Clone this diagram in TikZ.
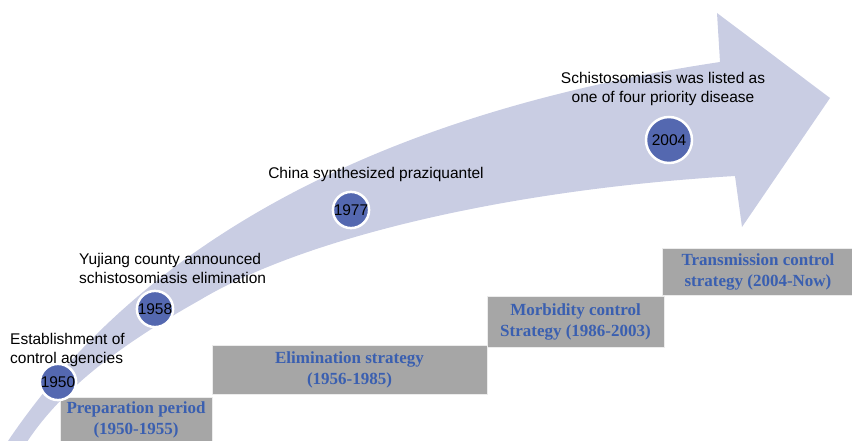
\documentclass[tikz,border=0pt]{standalone}
\usepackage{fontspec}
\setmainfont{Liberation Serif}
\setsansfont{Liberation Sans}
\definecolor{bandcol}{RGB}{201,205,227}
\definecolor{dotcol}{RGB}{84,104,176}
\definecolor{boxcol}{RGB}{166,166,166}
\definecolor{boxtext}{RGB}{58,95,176}
\begin{document}
\begin{tikzpicture}[x=1pt,y=-1pt,
  year/.style={circle,fill=dotcol,draw=white,line width=2.5pt,inner sep=0pt,minimum size=31pt,
    font=\sffamily\fontsize{15.5}{19}\selectfont},
  event/.style={inner sep=0pt,font=\sffamily\fontsize{15.5}{19}\selectfont},
  stage/.style={fill=boxcol,draw=white!85!gray,line width=0.8pt,inner sep=0pt,align=center,
    text=boxtext,font=\bfseries\fontsize{17}{21}\selectfont}]
\useasboundingbox (0,0) rectangle (852,441);
\clip (0,0) rectangle (852,441);
\fill [bandcol] (8,441) .. controls (150,230) and (400,110) .. (720,62)
  -- (717,13) -- (830,98) -- (742,227) -- (735,176)
  .. controls (500,190) and (300,240) .. (200,300)
  .. controls (120,345) and (60,390) .. (25,445) -- (5,445) -- cycle;
\node [stage, minimum width=152pt, minimum height=46pt] (prep) at (136,420) {Preparation period\\(1950-1955)};
\node [stage, minimum width=275pt, minimum height=49pt] (elim) at (349.5,369.5) {Elimination strategy\\(1956-1985)};
\node [stage, minimum width=177pt, minimum height=51pt] (morb) at (575.5,321.5) {Morbidity control\\Strategy (1986-2003)};
\node [stage, minimum width=192pt, minimum height=47pt] (trans) at (758,271.5) {Transmission control\\strategy (2004-Now)};
\node [year] (y1950) at (58,382) {1950};
\node [year] (y1958) at (155,309) {1958};
\node [year, minimum size=34pt] (y1977) at (351,210) {1977};
\node [year, minimum size=46pt] (y2004) at (669,140) {2004};
\node [event, anchor=west, align=left] (e1950) at (10,349.5) {Establishment of\\control agencies};
\node [event, anchor=west, align=left] (e1958) at (79,268) {Yujiang county announced\\schistosomiasis elimination};
\node [event] (e1977) at (376,174) {China synthesized praziquantel};
\node [event, align=center] (e2004) at (663,89) {Schistosomiasis was listed as\\one of four priority disease};
\end{tikzpicture}
\end{document}
